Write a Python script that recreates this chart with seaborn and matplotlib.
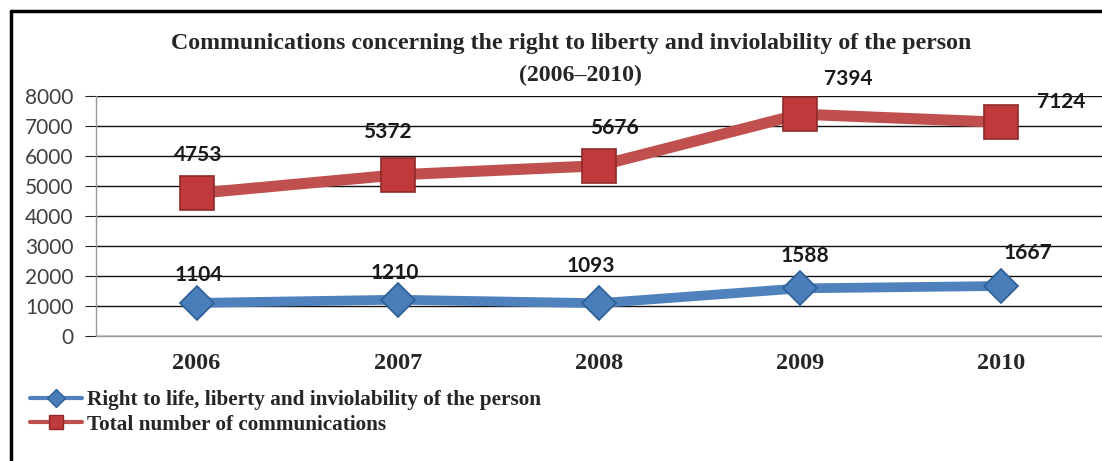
import matplotlib.pyplot as plt
import matplotlib.lines as mlines
import seaborn as sns
import pandas as pd

years = [2006, 2007, 2008, 2009, 2010]
right_to_life = [1104, 1210, 1093, 1588, 1667]
total_comms = [4753, 5372, 5676, 7394, 7124]

series_names = ['Right to life, liberty and inviolability of the person',
                'Total number of communications']
yticks = [0, 1000, 2000, 3000, 4000, 5000, 6000, 7000, 8000]

# label offsets in pixels (dx, dy) for the data labels
blue_offsets = [(2, 28), (-3, 27), (-8, 37), (5, 32), (27, 33)]
red_offsets = [(2, 38), (-10, 43), (15, 38), (48, 35), (60, 20)]

blue = '#4F81BD'
red = '#C0504D'

df = pd.DataFrame({
    'year': years * 2,
    'value': right_to_life + total_comms,
    'series': [series_names[0]] * len(years) + [series_names[1]] * len(years),
})

sns.set_style('white')
plt.rcParams['font.family'] = ['Lato', 'DejaVu Sans']

fig = plt.figure(figsize=(11.02, 4.61), dpi=100)
ax = fig.add_axes([96 / 1102, 1 - 336 / 461, 1 - 96 / 1102, 240 / 461])

# Blue series
sns.lineplot(data=df[df['series'] == series_names[0]], x='year', y='value',
             color=blue, linewidth=7, marker='D', markersize=17,
             markerfacecolor='#4A7EBB', markeredgecolor='#2C5D96',
             markeredgewidth=1.2, ax=ax, legend=False)
# Red series
sns.lineplot(data=df[df['series'] == series_names[1]], x='year', y='value',
             color=red, linewidth=8, marker='s', markersize=24,
             markerfacecolor='#C0393B', markeredgecolor='#8E2A28',
             markeredgewidth=1.2, ax=ax, legend=False)

for x, v, (dx, dy) in zip(years, right_to_life, blue_offsets):
    ax.annotate(str(v), (x, v), xytext=(dx, dy), textcoords='offset pixels',
                ha='center', va='center', fontsize=15, fontweight='bold',
                color='#1a1a1a')
for x, v, (dx, dy) in zip(years, total_comms, red_offsets):
    ax.annotate(str(v), (x, v), xytext=(dx, dy), textcoords='offset pixels',
                ha='center', va='center', fontsize=15, fontweight='bold',
                color='#1a1a1a')

ax.set_xlim(years[0] - 0.5, years[-1] + 0.5)
ax.set_ylim(0, 8000)
ax.set_yticks(yticks)
ax.set_yticklabels([str(t) for t in yticks], fontsize=15, color='#404040')
ax.set_xticks(years)
ax.set_xticklabels([str(y) for y in years], fontsize=17.5, fontweight='bold',
                   family='Liberation Serif')
ax.set_xticks([y + 0.5 for y in years[:-1]] + [years[0] - 0.5], minor=True)
ax.tick_params(axis='x', which='major', length=0, pad=12)
ax.tick_params(axis='x', which='minor', length=6, color='#999999', direction='out')
ax.tick_params(axis='y', length=8, color='#222222', direction='out', pad=8, left=True)
ax.set_xlabel('')
ax.set_ylabel('')

ax.grid(axis='y', color='#111111', linewidth=1)
ax.set_axisbelow(True)
for s in ['top', 'right']:
    ax.spines[s].set_visible(False)
ax.spines['left'].set_color('#999999')
ax.spines['bottom'].set_color('#999999')
ax.spines['left'].set_linewidth(1)
ax.spines['bottom'].set_linewidth(1)

fig.text(571 / 1102, 1 - 43 / 461,
         'Communications concerning the right to liberty and inviolability of the person',
         ha='center', va='center', fontsize=17.2, fontweight='bold', family='Liberation Serif')
fig.text(580 / 1102, 1 - 75 / 461, '(2006\u20132010)',
         ha='center', va='center', fontsize=17.2, fontweight='bold', family='Liberation Serif')

handles = [
    mlines.Line2D([], [], color=blue, linewidth=3, marker='D', markersize=9,
                  markerfacecolor='#4A7EBB', markeredgecolor='#2C5D96'),
    mlines.Line2D([], [], color=red, linewidth=3, marker='s', markersize=10,
                  markerfacecolor='#C0393B', markeredgecolor='#8E2A28'),
]
fig.legend(handles, series_names, loc='upper left', bbox_to_anchor=(30 / 1102, 1 - 390 / 461),
           frameon=False, handlelength=2.45, handletextpad=0.25, labelspacing=0.22,
           prop={'family': 'Liberation Serif', 'weight': 'bold', 'size': 15.3},
           borderaxespad=0, borderpad=0)

# outer frame on the top and left
fig.add_artist(mlines.Line2D([11 / 1102, 11 / 1102], [0, 1 - 11 / 461],
                             transform=fig.transFigure, color='black', linewidth=2.5))
fig.add_artist(mlines.Line2D([11 / 1102, 1], [1 - 11 / 461, 1 - 11 / 461],
                             transform=fig.transFigure, color='black', linewidth=2.5))

fig.savefig('out.png', dpi=100)
